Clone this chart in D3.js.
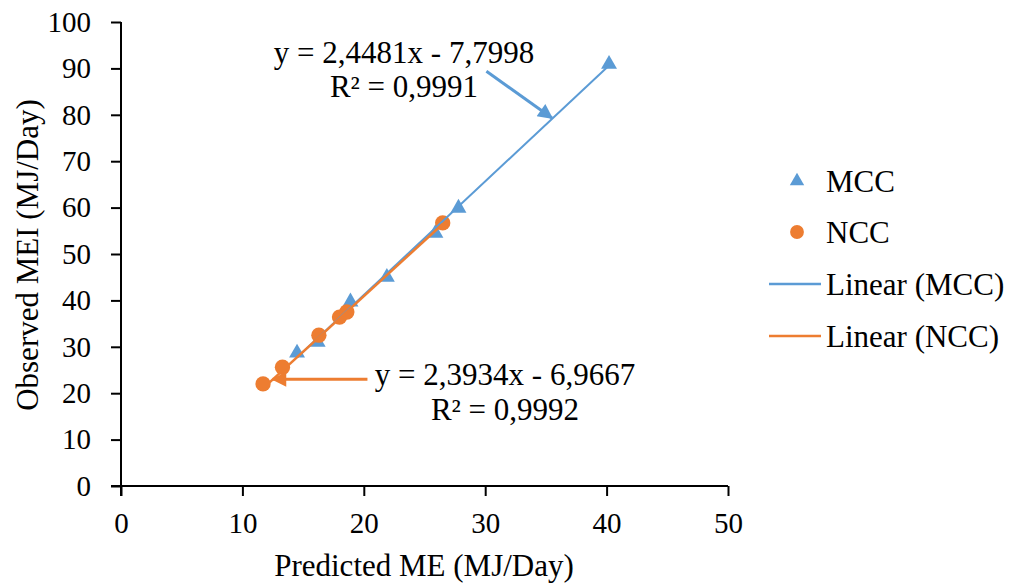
<!DOCTYPE html>
<html>
<head>
<meta charset="utf-8">
<script src="https://cdn.jsdelivr.net/npm/d3@7"></script>
<style>
  body { margin: 0; background: #fff; }
  svg text { font-family: "Liberation Serif", "DejaVu Serif", serif; fill: #000; }
</style>
</head>
<body>
<svg id="chart" width="1010" height="583"></svg>
<script>
'use strict';

// data
var mccX = [14.5, 16.2, 18.9, 21.9, 25.9, 27.8, 40.2];
var mccY = [28.7, 31.0, 39.7, 45.0, 54.5, 59.9, 90.9];
var nccX = [11.7, 13.3, 16.3, 18.0, 18.6, 26.5];
var nccY = [22.0, 25.6, 32.5, 36.4, 37.5, 56.7];

// trendline coefficients as printed
var mccFit = [2.4481, -7.7998];
var nccFit = [2.3934, -6.9667];
var mccLabel = ["y = 2,4481x - 7,7998", "R² = 0,9991"];
var nccLabel = ["y = 2,3934x - 6,9667", "R² = 0,9992"];

var xTicks = [0, 10, 20, 30, 40, 50];
var yTicks = [0, 10, 20, 30, 40, 50, 60, 70, 80, 90, 100];
var legendNames = ["MCC", "NCC", "Linear (MCC)", "Linear (NCC)"];

var blue = "#5B9BD5", orange = "#ED7D31";
var serif = '"Liberation Serif", "DejaVu Serif", serif';

var svg = d3.select("#chart").attr("font-family", serif);
var x = d3.scaleLinear().domain([0, 50]).range([121, 728]);
var y = d3.scaleLinear().domain([0, 100]).range([486, 22]);

// axes
var xAxis = svg.append("g")
    .attr("transform", "translate(0,486)")
    .call(d3.axisBottom(x).tickValues(xTicks).tickSize(10).tickPadding(16));
var yAxis = svg.append("g")
    .attr("transform", "translate(121,0)")
    .call(d3.axisLeft(y).tickValues(yTicks).tickSize(10).tickPadding(20));
[xAxis, yAxis].forEach(function (a) {
    a.attr("font-family", null).attr("font-size", null);
    a.select(".domain").attr("stroke", "#000").attr("stroke-width", 2);
    a.selectAll(".tick line").attr("stroke", "#000").attr("stroke-width", 2);
    a.selectAll(".tick text").attr("font-family", serif).attr("font-size", 29);
});
xAxis.select(".domain").attr("d", "M111,0H728");
yAxis.select(".domain").attr("d", "M0,22V496");

svg.append("text").attr("x", 424).attr("y", 576)
    .attr("text-anchor", "middle").attr("font-size", 31)
    .text("Predicted ME (MJ/Day)");
svg.append("text").attr("transform", "translate(38,255) rotate(-90)")
    .attr("text-anchor", "middle").attr("font-size", 31)
    .text("Observed MEI (MJ/Day)");

var tri = d3.symbol().type(d3.symbolTriangle).size(110);
var circ = d3.symbol().type(d3.symbolCircle).size(185);

svg.append("g").selectAll("path").data(mccX).join("path")
    .attr("d", tri)
    .attr("transform", function (d, i) { return "translate(" + x(d) + "," + y(mccY[i]) + ")"; })
    .attr("fill", blue);
svg.append("g").selectAll("path").data(nccX).join("path")
    .attr("d", circ)
    .attr("transform", function (d, i) { return "translate(" + x(d) + "," + y(nccY[i]) + ")"; })
    .attr("fill", orange);

// trendlines across the data range
var drawFit = function (xs, fit, color, w) {
    var ext = d3.extent(xs);
    svg.append("line")
        .attr("x1", x(ext[0])).attr("y1", y(fit[0] * ext[0] + fit[1]))
        .attr("x2", x(ext[1])).attr("y2", y(fit[0] * ext[1] + fit[1]))
        .attr("stroke", color).attr("stroke-width", w);
};
drawFit(mccX, mccFit, blue, 2);
drawFit(nccX, nccFit, orange, 2.5);

// callout arrows
var defs = svg.append("defs");
[["arrBlue", blue], ["arrOrange", orange]].forEach(function (m) {
    defs.append("marker").attr("id", m[0])
        .attr("viewBox", "0 0 10 10").attr("refX", 9).attr("refY", 5)
        .attr("markerWidth", 6).attr("markerHeight", 5)
        .attr("markerUnits", "strokeWidth").attr("orient", "auto")
        .append("path").attr("d", "M0,0L10,5L0,10z").attr("fill", m[1]);
});
svg.append("line")
    .attr("x1", x(30.1)).attr("y1", y(89.4)).attr("x2", x(35.5)).attr("y2", y(79.3))
    .attr("stroke", blue).attr("stroke-width", 3).attr("marker-end", "url(#arrBlue)");
svg.append("line")
    .attr("x1", x(20.3)).attr("y1", y(23.0)).attr("x2", x(12.5)).attr("y2", y(23.0))
    .attr("stroke", orange).attr("stroke-width", 3).attr("marker-end", "url(#arrOrange)");

var eq = function (lines, cx, b1, b2) {
    svg.append("text").attr("x", cx).attr("y", b1).attr("text-anchor", "middle")
        .attr("font-size", 31).text(lines[0]);
    svg.append("text").attr("x", cx).attr("y", b2).attr("text-anchor", "middle")
        .attr("font-size", 31).text(lines[1]);
};
eq(mccLabel, 404, 63, 97);
eq(nccLabel, 505, 385, 420);

// legend
var lg = svg.append("g");
var rowY = [181, 232, 284, 336];
lg.append("path").attr("d", d3.symbol().type(d3.symbolTriangle).size(90))
    .attr("transform", "translate(797," + rowY[0] + ")").attr("fill", blue);
lg.append("path").attr("d", d3.symbol().type(d3.symbolCircle).size(150))
    .attr("transform", "translate(797," + rowY[1] + ")").attr("fill", orange);
lg.append("line").attr("x1", 769).attr("x2", 821).attr("y1", rowY[2]).attr("y2", rowY[2])
    .attr("stroke", blue).attr("stroke-width", 2.5);
lg.append("line").attr("x1", 769).attr("x2", 821).attr("y1", rowY[3]).attr("y2", rowY[3])
    .attr("stroke", orange).attr("stroke-width", 2.5);
lg.selectAll("text").data(legendNames).join("text")
    .attr("x", 826).attr("y", function (d, i) { return rowY[i] + 11; })
    .attr("font-size", 31).text(function (d) { return d; });
</script>
</body>
</html>
